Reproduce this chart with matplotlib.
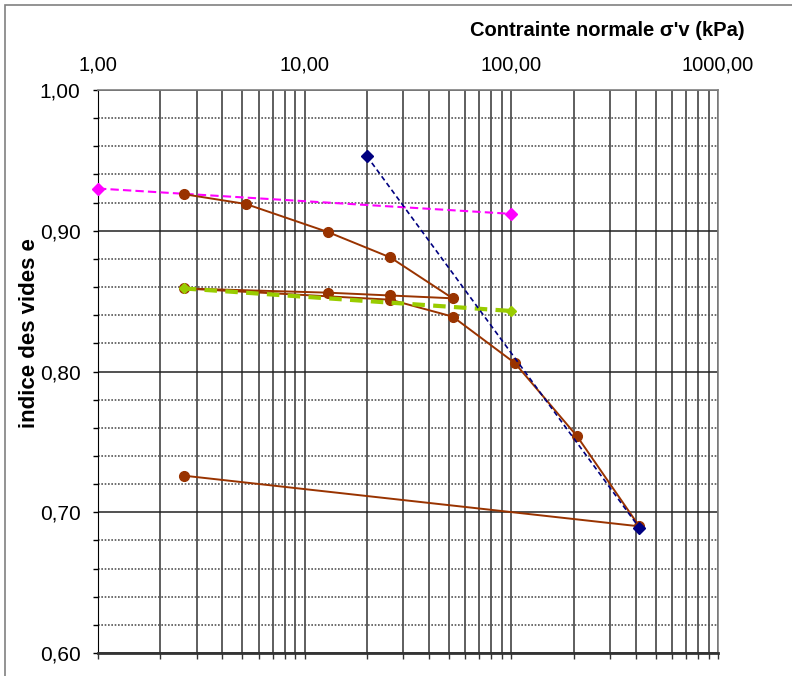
import numpy as np
import matplotlib.pyplot as plt
from matplotlib.ticker import FixedLocator, FuncFormatter, NullFormatter
from matplotlib.patches import Rectangle

plt.rcParams['font.family'] = ['Liberation Sans', 'DejaVu Sans']

# oedometer curve (loading / unloading / reloading)
stress_curve = [2.6, 5.2, 13, 26, 52, 26, 13, 2.6, 26, 52, 104, 208, 416, 2.6]
e_curve = [0.926, 0.919, 0.899, 0.881, 0.852, 0.854, 0.856, 0.859,
           0.851, 0.839, 0.806, 0.754, 0.690, 0.726]

# pink dashed line
stress_pink = [1.0, 100]
e_pink = [0.930, 0.912]

# navy dashed line
stress_navy = [20, 416]
e_navy = [0.953, 0.689]

# green dashed line
stress_green = [2.6, 100]
e_green = [0.859, 0.843]

fig = plt.figure(figsize=(7.92, 6.76), dpi=100)
ax = fig.add_axes([98 / 792, 1 - 653 / 676, 620 / 792, 563 / 676])

# outer chart frame (cut off at right and bottom)
fig.patches.append(Rectangle((5 / 792, -0.5), 2.0, 1 - 5 / 676 + 0.5,
                             transform=fig.transFigure, fill=False,
                             edgecolor='#808080', linewidth=1.2, zorder=0))

ax.plot(stress_pink, e_pink, color='#FF00FF', linestyle=(0, (4, 2)), linewidth=1.5,
        marker='D', markersize=6.5, zorder=3, clip_on=False)
ax.plot(stress_green, e_green, color='#99CC00', linestyle=(0, (3, 2)), linewidth=3.0,
        marker='D', markersize=5.5, zorder=4)
ax.plot(stress_curve, e_curve, color='#993300', linestyle='-', linewidth=1.4,
        marker='o', markersize=7, zorder=3)
ax.plot(stress_navy, e_navy, color='#000080', linestyle=(0, (3, 2)), linewidth=1.2,
        marker='D', markersize=6, zorder=5)

ax.set_xscale('log')
ax.set_xlim(1, 1000)
ax.set_ylim(0.60, 1.00)

# x axis: labels on top, small tick marks at the bottom
ax.xaxis.set_major_locator(FixedLocator([1, 10, 100, 1000]))
ax.xaxis.set_minor_locator(FixedLocator(
    [m * 10 ** d for d in range(3) for m in range(2, 10)]))
ax.xaxis.set_major_formatter(FuncFormatter(lambda v, p: f"{v:.2f}".replace('.', ',')))
ax.xaxis.set_minor_formatter(NullFormatter())
ax.tick_params(axis='x', which='both', bottom=True, top=False,
               labelbottom=False, labeltop=True, direction='out',
               length=4, width=1, color='#333333', labelsize=14.5, pad=7)

ax.set_yticks(np.arange(0.60, 1.001, 0.10))
ax.set_yticks(np.arange(0.60, 1.001, 0.02), minor=True)
ax.yaxis.set_major_formatter(FuncFormatter(lambda v, p: f"{v:.2f}".replace('.', ',')))
ax.tick_params(axis='y', which='both', direction='out', length=3.6, width=1,
               color='black', labelsize=15, pad=9)

# gridlines
ax.grid(True, axis='x', which='both', color='#333333', linewidth=1.1, linestyle='-')
ax.grid(True, axis='y', which='major', color='#222222', linewidth=1.1, linestyle='-')
ax.grid(True, axis='y', which='minor', color='#555555', linewidth=1.2, linestyle=(0, (1, 1)))
ax.set_axisbelow(True)

for side in ['top', 'right']:
    ax.spines[side].set_color('#808080')
    ax.spines[side].set_linewidth(1.2)
ax.spines['left'].set_color('black')
ax.spines['bottom'].set_color('#333333')
ax.spines['bottom'].set_linewidth(2)

fig.text(745 / 792, 1 - 31 / 676, "Contrainte normale σ'v (kPa)", ha='right', va='center',
         fontsize=14.5, fontweight='bold')
fig.text(30 / 792, 1 - 333 / 676, "indice des vides e", ha='center', va='center',
         rotation=90, fontsize=16, fontweight='bold')

fig.savefig('out.png', dpi=100)
